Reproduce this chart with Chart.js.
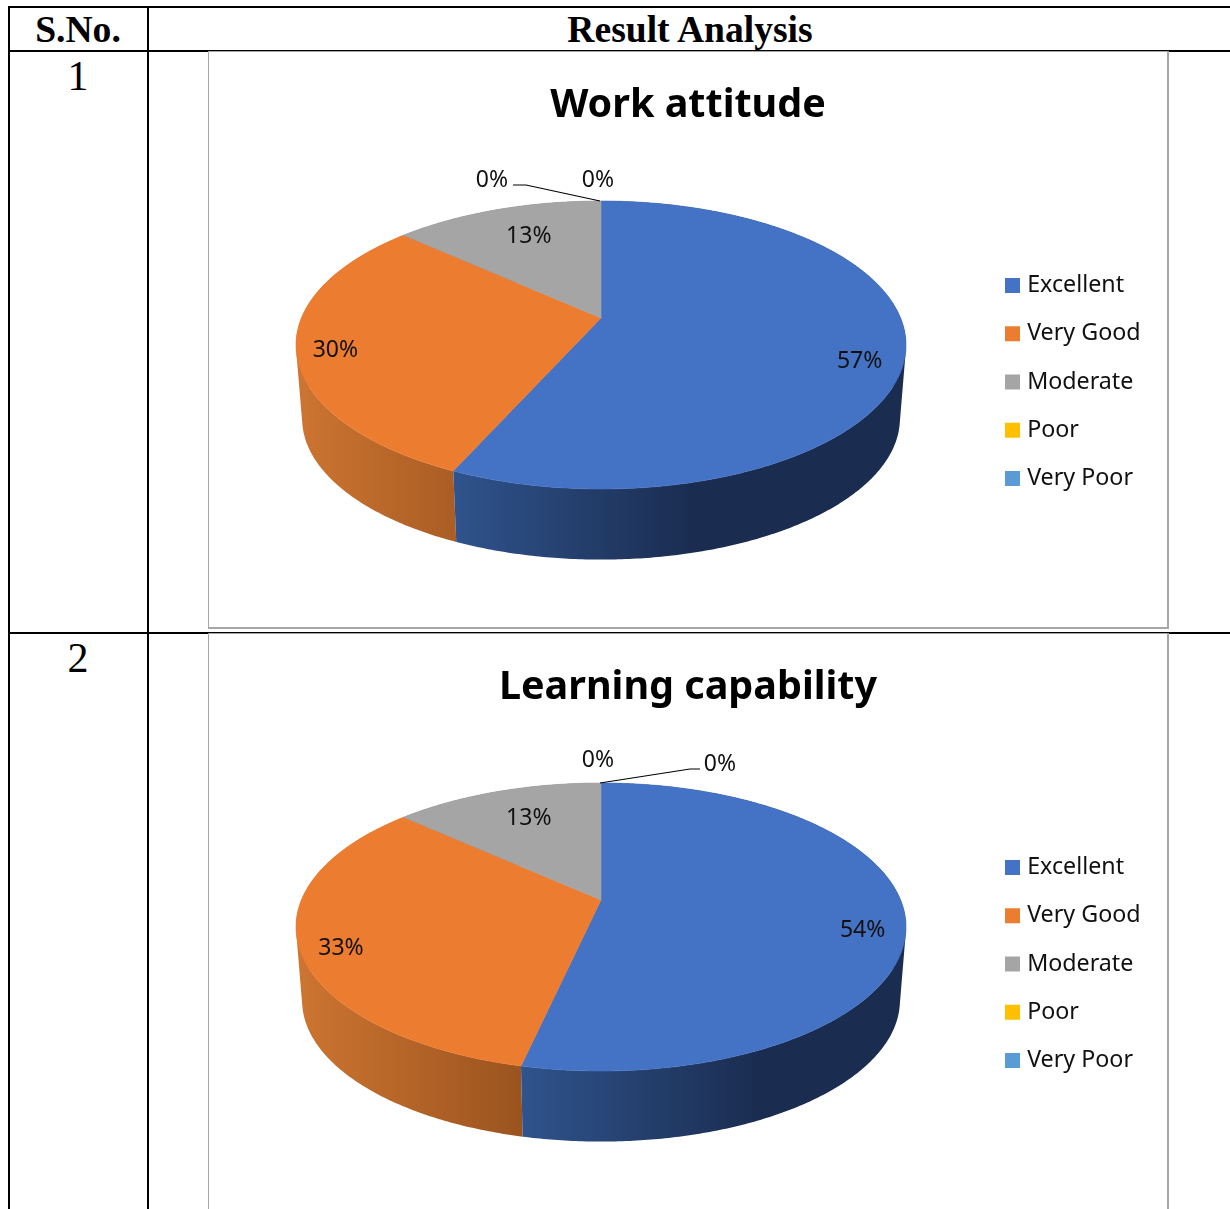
<!DOCTYPE html>
<html><head><meta charset="utf-8">
<script src="https://cdn.jsdelivr.net/npm/chart.js@4"></script>
<style>
html,body{margin:0;padding:0;background:#fff;width:1230px;height:1209px;overflow:hidden}
#page{position:relative;width:1230px;height:1209px;overflow:hidden;font-family:"Liberation Serif",serif;color:#000}
.l{position:absolute;background:#000}
.t{position:absolute;text-align:center;white-space:nowrap;line-height:1}
.box{position:absolute;left:208px;width:960px;height:577px;background:#fff;box-sizing:content-box}
.box canvas{position:absolute;left:0;top:0;display:block}
.edge{position:absolute;background:#a6a6a6}
</style></head><body>
<div id="page">
  <div class="l" style="left:8px;top:6px;width:1222px;height:2px"></div>
  <div class="l" style="left:8px;top:50px;width:1222px;height:2px"></div>
  <div class="l" style="left:8px;top:632px;width:1222px;height:2px"></div>
  <div class="l" style="left:8px;top:6px;width:2px;height:1203px"></div>
  <div class="l" style="left:147px;top:6px;width:2px;height:1203px"></div>
  <div class="t" style="left:8px;width:140px;top:11px;font-size:37.6px;font-weight:bold">S.No.</div>
  <div class="t" style="left:148px;width:1084px;top:11px;font-size:37.6px;font-weight:bold">Result Analysis</div>
  <div class="t" style="left:8px;width:140px;top:55px;font-size:42px">1</div>
  <div class="t" style="left:8px;width:140px;top:637px;font-size:42px">2</div>
  <div class="box" style="top:51px"><canvas id="c1" width="960" height="577"></canvas>
    <div class="edge" style="left:0;top:0;width:960px;height:1px"></div>
    <div class="edge" style="left:0;top:576px;width:961px;height:2px"></div>
    <div class="edge" style="left:0;top:0;width:1px;height:577px"></div>
    <div class="edge" style="left:959px;top:0;width:2px;height:577px"></div>
  </div>
  <div class="box" style="top:633px"><canvas id="c2" width="960" height="577"></canvas>
    <div class="edge" style="left:0;top:0;width:960px;height:1px"></div>
    <div class="edge" style="left:0;top:0;width:1px;height:577px"></div>
    <div class="edge" style="left:959px;top:0;width:2px;height:577px"></div>
  </div>
</div>
<script>
const categories = ["Excellent", "Very Good", "Moderate", "Poor", "Very Poor"];
const workAttitude = [56.7, 30, 13.3, 0, 0];
const learningCapability = [53.5, 33.2, 13.3, 0, 0];
const sliceColors = ["#4472c4", "#ec7c30", "#a5a5a5", "#ffc000", "#5b9bd5"];
const wallStops = [["#2f538c", "#1a2c50"], ["#cc7431", "#97511d"], ["#7a7a7a", "#666666"], ["#bb8d00", "#bb8d00"], ["#43729d", "#43729d"]];

const FONT = '"Noto Sans", sans-serif';
const tilt = {apexX: 393, apexY: 267, rimX: 299.6, rimY: 138.94, k: 0.1875, wallDrop: 74, wallScale: 0.98};

function project(a, r, lower) {
  const u = r * Math.cos(a), v = r * Math.sin(a), d = 1 - tilt.k * v;
  const s = lower ? tilt.wallScale : 1;
  return {x: tilt.apexX + s * tilt.rimX * u / d, y: tilt.apexY + (lower ? tilt.wallDrop : 0) + s * tilt.rimY * v / d};
}
function arcPoints(start, end, lower) {
  const n = Math.max(2, Math.ceil((end - start) / 0.01)), pts = [];
  for (let i = 0; i <= n; i++) pts.push(project(start + (end - start) * i / n, 1, lower));
  return pts;
}

const pie3d = {
  id: "pie3d",
  afterLayout(chart, args, opts) {
    const lg = chart.legend;
    const w = lg.right - lg.left;
    lg.left = opts.legendLeft; lg.right = lg.left + w;
    const dy = opts.legendMiddle - (lg.top + lg.bottom) / 2;
    lg.top += dy; lg.bottom += dy;
  },
  beforeDatasetDraw(chart, args, opts) {
    const ctx = chart.ctx, arcs = chart.getDatasetMeta(args.index).data;
    const colors = chart.data.datasets[args.index].backgroundColor;
    ctx.save();
    // side walls, back slices first
    [2, 1, 0].forEach(i => {
      const el = arcs[i];
      if (el.endAngle - el.startAngle < 1e-4) return;
      const top = arcPoints(el.startAngle, el.endAngle, false);
      const low = arcPoints(el.startAngle, el.endAngle, true);
      const xs = low.filter((p, j) => Math.sin(el.startAngle + (el.endAngle - el.startAngle) * j / (low.length - 1)) > 0).map(p => p.x);
      const x0 = xs.length ? Math.min(...xs) : 0;
      const g = ctx.createLinearGradient(x0, 0, x0 + 238, 0);
      g.addColorStop(0, wallStops[i][0]); g.addColorStop(1, wallStops[i][1]);
      ctx.fillStyle = g;
      ctx.beginPath();
      // all quads in one path with one winding, so no seams appear between them
      for (let j = 0; j < top.length - 1; j++) {
        let q = [top[j], top[j + 1], low[j + 1], low[j]];
        let area = 0;
        q.forEach((p, m) => { const n = q[(m + 1) % 4]; area += p.x * n.y - n.x * p.y; });
        if (area < 0) q = q.reverse();
        q.forEach((p, m) => m ? ctx.lineTo(p.x, p.y) : ctx.moveTo(p.x, p.y));
        ctx.closePath();
      }
      ctx.fill();
    });
    // top faces
    arcs.forEach((el, i) => {
      if (el.endAngle - el.startAngle < 1e-4) return;
      ctx.fillStyle = colors[i];
      ctx.strokeStyle = colors[i];
      ctx.lineWidth = 0.6;
      ctx.beginPath();
      ctx.moveTo(tilt.apexX, tilt.apexY);
      arcPoints(el.startAngle, el.endAngle, false).forEach(p => ctx.lineTo(p.x, p.y));
      ctx.closePath(); ctx.fill(); ctx.stroke();
    });
    ctx.restore();
    return false;
  },
  afterDatasetsDraw(chart, args, opts) {
    const ctx = chart.ctx, meta = chart.getDatasetMeta(0), vals = chart.data.datasets[0].data;
    const rim = project(-Math.PI / 2, 1, false);
    ctx.save();
    ctx.font = "23px " + FONT;
    ctx.fillStyle = "#111";
    ctx.textAlign = "center"; ctx.textBaseline = "middle";
    ctx.strokeStyle = "#000"; ctx.lineWidth = 1.2;
    ctx.beginPath();
    opts.leader.forEach((o, j) => j ? ctx.lineTo(rim.x + o[0], rim.y + o[1]) : ctx.moveTo(rim.x + o[0], rim.y + o[1]));
    ctx.stroke();
    meta.data.forEach((el, i) => {
      const txt = Math.round(vals[i]) + "%";
      let x, y;
      if (vals[i] > 0) {
        const p = project((el.startAngle + el.endAngle) / 2, 0.85, false);
        x = p.x + opts.nudge[i][0]; y = p.y + opts.nudge[i][1];
      } else {
        x = rim.x + opts.nudge[i][0]; y = rim.y + opts.nudge[i][1];
      }
      ctx.fillText(txt, x, y);
    });
    ctx.restore();
  }
};

function makeChart(id, title, values, nudge, leader) {
  return new Chart(document.getElementById(id), {
    type: "pie",
    data: {labels: categories, datasets: [{data: values, backgroundColor: sliceColors, borderColor: sliceColors, borderWidth: 9}]},
    plugins: [pie3d],
    options: {
      responsive: false, animation: false, devicePixelRatio: 1,
      layout: {padding: {top: 0, bottom: 0}},
      events: [],
      plugins: {
        tooltip: {enabled: false},
        title: {display: true, text: title, color: "#000", font: {family: FONT, size: 39.5, weight: "bold"}, padding: {top: 31, bottom: 10}},
        legend: {
          position: "right", align: "center",
          labels: {boxWidth: 6, boxHeight: 6, padding: 25, color: "#111", font: {family: FONT, size: 23.25}}
        },
        pie3d: {legendLeft: 776.5, legendMiddle: 331, nudge, leader}
      }
    }
  });
}

makeChart("c1", "Work attitude", workAttitude,
  [[1, 17.5], [-8, 7.5], [18, 12.5], [-109, -20.5], [-3, -20.5]],
  [[-1, 0], [-75, -16], [-88, -16]]);
makeChart("c2", "Learning capability", learningCapability,
  [[4, 17.5], [-5, 10.5], [18, 12.5], [-3, -22.5], [119, -18.5]],
  [[-1, 0], [89, -14], [99, -14]]);
</script>
</body></html>
